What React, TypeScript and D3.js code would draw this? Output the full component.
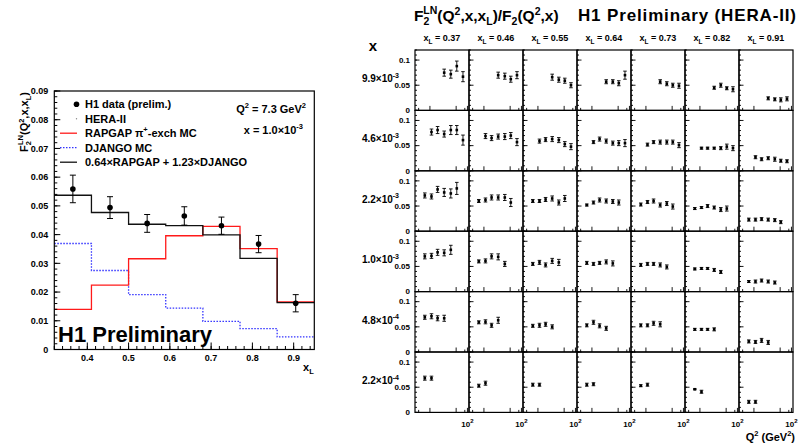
import React from 'react';
import * as d3 from 'd3';

const FONT = "'Liberation Sans', Arial, Helvetica, sans-serif";

// ---------------- Left panel data ----------------
const binEdges = [0.32, 0.41, 0.5, 0.59, 0.68, 0.77, 0.86, 0.95];
const dataXL = [0.365, 0.455, 0.545, 0.635, 0.725, 0.815, 0.905];
const dataF2LN = [0.0559, 0.0494, 0.0439, 0.0465, 0.0431, 0.0367, 0.0161];
const dataErr = [0.0048, 0.0038, 0.0031, 0.0032, 0.003, 0.003, 0.003];
const rapgapMC = [0.014, 0.0224, 0.0316, 0.0396, 0.0429, 0.0351, 0.0166];
const djangoMC = [0.0369, 0.0275, 0.0191, 0.0144, 0.0098, 0.0073, 0.0044];
const combinedMC = [0.0537, 0.0477, 0.0436, 0.0431, 0.0399, 0.0317, 0.0163];
const leftYTicks = [0, 0.01, 0.02, 0.03, 0.04, 0.05, 0.06, 0.07, 0.08, 0.09];
const leftYTickLabels = ['0', '0.01', '0.02', '0.03', '0.04', '0.05', '0.06', '0.07', '0.08', '0.09'];
const leftXTicks = [0.4, 0.5, 0.6, 0.7, 0.8, 0.9];
const leftXTickLabels = ['0.4', '0.5', '0.6', '0.7', '0.8', '0.9'];

// ---------------- Right grid data ----------------
const xLHeaders = ['0.37', '0.46', '0.55', '0.64', '0.73', '0.82', '0.91'];
const xRowMantissa = ['9.9', '4.6', '2.2', '1.0', '4.8', '2.2'];
const xRowExponent = ['-3', '-3', '-3', '-3', '-4', '-4'];
const q2Bins = [7.3, 11, 16, 24, 36, 52, 76];
const rowFirstQ2 = [3, 1, 0, 0, 0, 0];
const gridYTicks = [0, 0.05, 0.1];
const gridYTickLabels = ['0', '0.05', '0.1'];
const gridQ2MajorTicks = [10, 50, 100];
const gridQ2MinorTicks = [5, 85];

const ratioRow1 = [[0.075, 0.072, 0.088, 0.067], [0.070, 0.068, 0.062, 0.070], [0.066, 0.061, 0.059, 0.050], [0.057, 0.057, 0.054, 0.070], [0.057, 0.053, 0.050, 0.049], [0.045, 0.050, 0.044, 0.042], [0.024, 0.022, 0.021, 0.023]];
const errRow1 = [[0.007, 0.008, 0.010, 0.010], [0.006, 0.006, 0.006, 0.007], [0.006, 0.005, 0.005, 0.005], [0.004, 0.004, 0.005, 0.008], [0.004, 0.004, 0.004, 0.005], [0.003, 0.004, 0.003, 0.005], [0.003, 0.003, 0.004, 0.004]];
const ratioRow2 = [[0.077, 0.081, 0.073, 0.081, 0.081, 0.061], [0.069, 0.065, 0.068, 0.068, 0.070, 0.057], [0.059, 0.062, 0.063, 0.061, 0.053, 0.048], [0.057, 0.063, 0.059, 0.055, 0.055, 0.055], [0.052, 0.057, 0.057, 0.057, 0.057, 0.051], [0.045, 0.045, 0.045, 0.045, 0.048, 0.045], [0.027, 0.023, 0.025, 0.023, 0.020, 0.019]];
const errRow2 = [[0.006, 0.007, 0.006, 0.009, 0.009, 0.010], [0.005, 0.005, 0.005, 0.006, 0.006, 0.007], [0.004, 0.004, 0.005, 0.005, 0.005, 0.006], [0.003, 0.004, 0.004, 0.004, 0.005, 0.007], [0.003, 0.003, 0.004, 0.004, 0.004, 0.005], [0.002, 0.002, 0.002, 0.003, 0.005, 0.005], [0.003, 0.003, 0.003, 0.004, 0.003, 0.003]];
const ratioRow3 = [[0.071, 0.069, 0.083, 0.077, 0.075, 0.085], [0.060, 0.062, 0.067, 0.067, 0.067, 0.057], [0.060, 0.060, 0.063, 0.065, 0.057, 0.065], [0.052, 0.057, 0.062, 0.060, 0.059, 0.057], [0.053, 0.058, 0.060, 0.052, 0.055, 0.049], [0.045, 0.047, 0.050, 0.047, 0.043, 0.045], [0.023, 0.023, 0.024, 0.023, 0.022, 0.018]];
const errRow3 = [[0.005, 0.005, 0.006, 0.008, 0.009, 0.012], [0.003, 0.004, 0.005, 0.005, 0.006, 0.008], [0.003, 0.003, 0.004, 0.005, 0.005, 0.006], [0.002, 0.003, 0.004, 0.004, 0.004, 0.005], [0.003, 0.003, 0.004, 0.004, 0.004, 0.005], [0.002, 0.002, 0.003, 0.003, 0.004, 0.005], [0.003, 0.003, 0.003, 0.003, 0.003, 0.003]];
const ratioRow4 = [[0.070, 0.071, 0.078, 0.077, 0.083], [0.060, 0.061, 0.070, 0.069, 0.055], [0.055, 0.058, 0.053, 0.061, 0.058], [0.057, 0.055, 0.057, 0.059, 0.056], [0.053, 0.055, 0.055, 0.053, 0.049], [0.045, 0.046, 0.046, 0.043, 0.039], [0.020, 0.020, 0.022, 0.020, 0.018]];
const errRow4 = [[0.005, 0.005, 0.006, 0.006, 0.009], [0.003, 0.004, 0.005, 0.006, 0.005], [0.003, 0.004, 0.004, 0.005, 0.006], [0.003, 0.003, 0.003, 0.004, 0.005], [0.003, 0.003, 0.003, 0.004, 0.004], [0.002, 0.002, 0.002, 0.003, 0.003], [0.002, 0.003, 0.003, 0.003, 0.003]];
const ratioRow5 = [[0.069, 0.071, 0.067, 0.067], [0.059, 0.060, 0.053, 0.063], [0.052, 0.053, 0.055, 0.050], [0.053, 0.059, 0.052, 0.047], [0.053, 0.053, 0.057, 0.055], [0.045, 0.045, 0.045, 0.045], [0.021, 0.020, 0.023, 0.019]];
const errRow5 = [[0.004, 0.005, 0.005, 0.006], [0.003, 0.004, 0.004, 0.006], [0.003, 0.004, 0.004, 0.004], [0.003, 0.004, 0.004, 0.004], [0.003, 0.003, 0.004, 0.005], [0.002, 0.002, 0.002, 0.003], [0.003, 0.003, 0.004, 0.004]];
const ratioRow6 = [[0.068, 0.068], [0.053, 0.058], [0.055, 0.055], [0.055, 0.056], [0.053, 0.055], [0.046, 0.041], [0.021, 0.021]];
const errRow6 = [[0.004, 0.004], [0.003, 0.004], [0.003, 0.003], [0.003, 0.003], [0.002, 0.003], [0.001, 0.003], [0.003, 0.003]];

const ratioRows = [ratioRow1, ratioRow2, ratioRow3, ratioRow4, ratioRow5, ratioRow6];
const errRows = [errRow1, errRow2, errRow3, errRow4, errRow5, errRow6];

// ---------------- Layout ----------------
const LP = { x0: 54.3, x1: 314.3, y0: 91, y1: 349.5 };
const GRID = { x0: 415, y0: 50, w: 54, h: 60.4 };

export default function App() {
  // Left panel scales
  const xL = d3.scaleLinear().domain([0.32, 0.95]).range([LP.x0, LP.x1]);
  const yL = d3.scaleLinear().domain([0, 0.09]).range([LP.y1, LP.y0]);
  const step = d3
    .line<[number, number]>()
    .x((d) => xL(d[0]))
    .y((d) => yL(d[1]))
    .curve(d3.curveStepAfter);
  const histPts = (v: number[]): [number, number][] => [
    ...v.map((y, i) => [binEdges[i], y] as [number, number]),
    [binEdges[binEdges.length - 1], v[v.length - 1]] as [number, number],
  ];
  const yMinor = d3.range(0, 0.0901, 0.002);
  const xMinor = d3.range(0.32, 0.9501, 0.02);

  // Grid scales
  const qS = d3.scaleLog().domain([4, 110]).range([0, GRID.w]);
  const rS = d3.scaleLinear().domain([0, 0.12]).range([GRID.h, 0]);
  const gridYMinor = d3.range(0, 0.1201, 0.01);

  const legendRows = [108.3, 122.7, 137.2, 151.7, 166.2];

  return (
    <svg
      width={801}
      height={446}
      style={{ position: 'absolute', left: 0, top: 0, background: '#fff' }}
      fontFamily={FONT}
      fontWeight="bold"
    >
      <rect x={0} y={0} width={801} height={446} fill="#fff" />
      {/* ============ LEFT PANEL ============ */}
      <g>
        <path d={step(histPts(djangoMC)) || ''} fill="none" stroke="#3333ff" strokeWidth={1.3} strokeDasharray="1.5,1.5" />
        <path d={step(histPts(rapgapMC)) || ''} fill="none" stroke="#ff1a1a" strokeWidth={1.3} />
        <path d={step(histPts(combinedMC)) || ''} fill="none" stroke="#111" strokeWidth={1.3} />
        {dataXL.map((xv, i) => {
          const cx = xL(xv);
          const yt = yL(dataF2LN[i] + dataErr[i]);
          const yb = yL(dataF2LN[i] - dataErr[i]);
          return (
            <g key={'d' + i} stroke="#000" strokeWidth={1}>
              <line x1={cx} x2={cx} y1={yt} y2={yb} />
              <line x1={cx - 3} x2={cx + 3} y1={yt} y2={yt} />
              <line x1={cx - 3} x2={cx + 3} y1={yb} y2={yb} />
              <circle cx={cx} cy={yL(dataF2LN[i])} r={2.8} fill="#000" stroke="none" />
            </g>
          );
        })}
        <rect x={LP.x0} y={LP.y0} width={LP.x1 - LP.x0} height={LP.y1 - LP.y0} fill="none" stroke="#000" strokeWidth={1.2} />
        {yMinor.map((v, i) => (
          <line key={'ym' + i} x1={LP.x0} x2={LP.x0 + 3} y1={yL(v)} y2={yL(v)} stroke="#000" strokeWidth={1} />
        ))}
        {leftYTicks.map((v, i) => (
          <g key={'yt' + i}>
            <line x1={LP.x0} x2={LP.x0 + 6} y1={yL(v)} y2={yL(v)} stroke="#000" strokeWidth={1} />
            <text x={LP.x0 - 6} y={yL(v) + 3.2} fontSize={9} textAnchor="end">
              {leftYTickLabels[i]}
            </text>
          </g>
        ))}
        {xMinor.map((v, i) => (
          <line key={'xm' + i} x1={xL(v)} x2={xL(v)} y1={LP.y1} y2={LP.y1 - 3.5} stroke="#000" strokeWidth={1} />
        ))}
        {leftXTicks.map((v, i) => (
          <g key={'xt' + i}>
            <line x1={xL(v)} x2={xL(v)} y1={LP.y1} y2={LP.y1 - 7} stroke="#000" strokeWidth={1} />
            <text x={xL(v)} y={360.5} fontSize={9} textAnchor="middle">
              {leftXTickLabels[i]}
            </text>
          </g>
        ))}
        <text x={303} y={371} fontSize={11}>
          x<tspan fontSize={7.5} dy={3}>L</tspan>
        </text>
        <text transform="translate(27.5,92) rotate(-90)" fontSize={11} textAnchor="end">
          F<tspan fontSize={7.5} dy={3}>2</tspan>
          <tspan fontSize={7.5} dx={-4} dy={-8}>LN</tspan>
          <tspan dy={5}>(Q</tspan>
          <tspan fontSize={7.5} dy={-4}>2</tspan>
          <tspan dy={4}>,x,x</tspan>
          <tspan fontSize={7.5} dy={3}>L</tspan>
          <tspan dy={-3}>)</tspan>
        </text>
        <circle cx={76.5} cy={legendRows[0] - 4} r={2.8} fill="#000" />
        <text x={85} y={legendRows[0]} fontSize={11}>H1 data (prelim.)</text>
        <circle cx={76.5} cy={legendRows[1] - 4} r={0.7} fill="#888" />
        <text x={85} y={legendRows[1]} fontSize={11}>HERA-II</text>
        <line x1={60} x2={77} y1={legendRows[2] - 4} y2={legendRows[2] - 4} stroke="#ff1a1a" strokeWidth={1.3} />
        <text x={85} y={legendRows[2]} fontSize={11}>
          RAPGAP π<tspan fontSize={7.5} dy={-5}>+</tspan>
          <tspan dy={5}>-exch MC</tspan>
        </text>
        <line x1={60} x2={77} y1={legendRows[3] - 4} y2={legendRows[3] - 4} stroke="#3333ff" strokeWidth={1.3} strokeDasharray="1.5,1.5" />
        <text x={85} y={legendRows[3]} fontSize={11}>DJANGO MC</text>
        <line x1={60} x2={77} y1={legendRows[4] - 4} y2={legendRows[4] - 4} stroke="#111" strokeWidth={1.3} />
        <text x={85} y={legendRows[4]} fontSize={11}>0.64×RAPGAP + 1.23×DJANGO</text>
        <text x={306} y={113} fontSize={11} textAnchor="end">
          Q<tspan fontSize={7.5} dy={-5}>2</tspan>
          <tspan dy={5}> = 7.3 GeV</tspan>
          <tspan fontSize={7.5} dy={-5}>2</tspan>
        </text>
        <text x={303} y={133.5} fontSize={11} textAnchor="end">
          x = 1.0×10<tspan fontSize={7.5} dy={-5}>-3</tspan>
        </text>
        <text x={58} y={341.5} fontSize={22}>H1 Preliminary</text>
      </g>

      {/* ============ RIGHT GRID ============ */}
      <g>
        <text x={414} y={21} fontSize={15.5}>
          F<tspan fontSize={10.5} dy={4}>2</tspan>
          <tspan fontSize={10.5} dx={-6} dy={-11}>LN</tspan>
          <tspan dy={7}>(Q</tspan>
          <tspan fontSize={10.5} dy={-6}>2</tspan>
          <tspan dy={6}>,x,x</tspan>
          <tspan fontSize={10.5} dy={4}>L</tspan>
          <tspan dy={-4}>)/F</tspan>
          <tspan fontSize={10.5} dy={4}>2</tspan>
          <tspan dy={-4}>(Q</tspan>
          <tspan fontSize={10.5} dy={-6}>2</tspan>
          <tspan dy={6}>,x)</tspan>
        </text>
        <text x={578} y={21} fontSize={17} textLength={218} lengthAdjust="spacing">
          H1 Preliminary (HERA-II)
        </text>
        <text x={373} y={51} fontSize={15} textAnchor="middle">x</text>
        {xLHeaders.map((h, c) => (
          <text key={'h' + c} x={GRID.x0 + c * GRID.w + GRID.w / 2} y={41} fontSize={9} textAnchor="middle">
            x<tspan fontSize={6.5} dy={2.5}>L</tspan>
            <tspan dy={-2.5}> = {h}</tspan>
          </text>
        ))}
        {xRowMantissa.map((m, r) => (
          <text key={'rl' + r} x={399} y={GRID.y0 + r * GRID.h + 32} fontSize={10} textAnchor="end">
            {m}×10<tspan fontSize={7} dy={-4.5}>{xRowExponent[r]}</tspan>
          </text>
        ))}
        {ratioRows.map((row, r) =>
          row.map((vals, c) => {
            const px = GRID.x0 + c * GRID.w;
            const py = GRID.y0 + r * GRID.h;
            return (
              <g key={`p${r}-${c}`} transform={`translate(${px},${py})`}>
                {gridYMinor.map((v, i) => (
                  <line key={'gm' + i} x1={0} x2={2} y1={rS(v)} y2={rS(v)} stroke="#000" strokeWidth={0.9} />
                ))}
                {gridYTicks.map((v, i) => (
                  <line key={'gt' + i} x1={0} x2={4.5} y1={rS(v)} y2={rS(v)} stroke="#000" strokeWidth={0.9} />
                ))}
                {gridQ2MinorTicks.map((v, i) => (
                  <line key={'gxm' + i} x1={qS(v)} x2={qS(v)} y1={GRID.h} y2={GRID.h - 2.5} stroke="#000" strokeWidth={0.9} />
                ))}
                {gridQ2MajorTicks.map((v, i) => (
                  <line key={'gxt' + i} x1={qS(v)} x2={qS(v)} y1={GRID.h} y2={GRID.h - 4.5} stroke="#000" strokeWidth={0.9} />
                ))}
                {vals.map((v, k) => {
                  const cx = qS(q2Bins[rowFirstQ2[r] + k]);
                  const e = errRows[r][c][k];
                  const yt = rS(v + e);
                  const yb = rS(v - e);
                  return (
                    <g key={'pt' + k} stroke="#000" strokeWidth={0.9}>
                      <line x1={cx} x2={cx} y1={yt} y2={yb} />
                      <line x1={cx - 1.8} x2={cx + 1.8} y1={yt} y2={yt} />
                      <line x1={cx - 1.8} x2={cx + 1.8} y1={yb} y2={yb} />
                      <rect x={cx - 1.3} y={rS(v) - 1.3} width={2.6} height={2.6} fill="#000" stroke="none" />
                    </g>
                  );
                })}
                <rect x={0} y={0} width={GRID.w} height={GRID.h} fill="none" stroke="#000" strokeWidth={1.2} />
                {c === 0 &&
                  gridYTicks.map((v, i) => (
                    <text key={'gl' + i} x={-5} y={rS(v) + 2.8} fontSize={8} textAnchor="end" stroke="none">
                      {gridYTickLabels[i]}
                    </text>
                  ))}
                {r === ratioRows.length - 1 && (
                  <text x={qS(100)} y={GRID.h + 14.5} fontSize={8} textAnchor="middle">
                    10<tspan fontSize={6} dy={-4}>2</tspan>
                  </text>
                )}
              </g>
            );
          })
        )}
        <text x={795} y={441} fontSize={11} textAnchor="end">
          Q<tspan fontSize={7.5} dy={-5}>2</tspan>
          <tspan dy={5}> (GeV</tspan>
          <tspan fontSize={7.5} dy={-5}>2</tspan>
          <tspan dy={5}>)</tspan>
        </text>
      </g>
    </svg>
  );
}
